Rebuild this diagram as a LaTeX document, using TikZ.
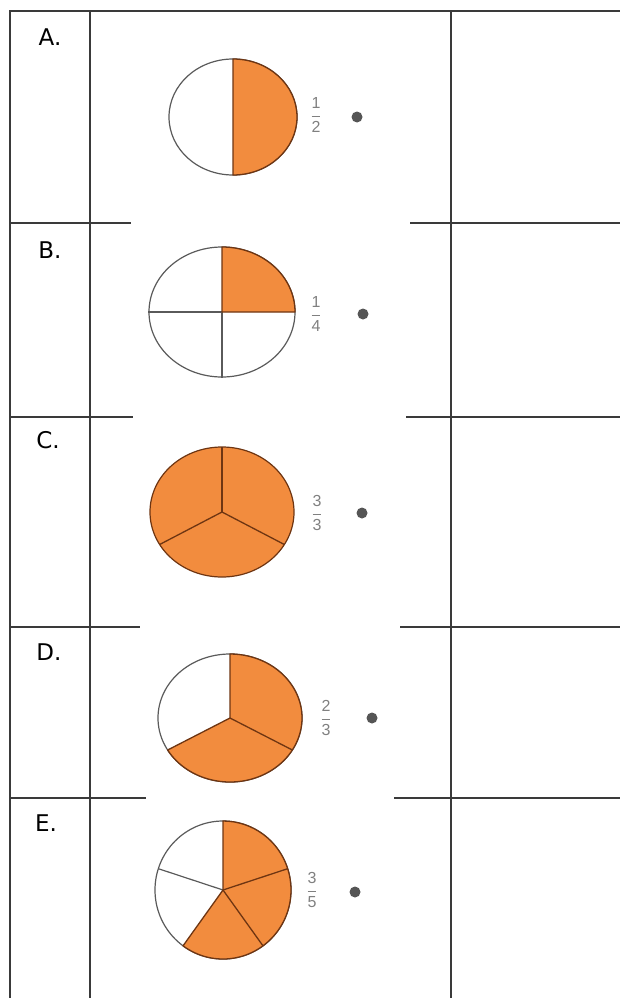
\documentclass[tikz,border=0pt]{standalone}
\usepackage{amsmath}
\usepackage{fontspec}
\usepackage{tikz}
\usetikzlibrary{positioning,shapes.geometric}
\newfontfamily\rowfont{DejaVu Sans}
\newfontfamily\fracfont{Liberation Sans}
\definecolor{PieOrange}{HTML}{F28C3E}
\definecolor{PieEdge}{HTML}{6E3512}
\definecolor{PieGrey}{HTML}{5A5A5A}
\definecolor{GridLine}{HTML}{3A3A3A}
\definecolor{FracGrey}{HTML}{808080}
\definecolor{DotGrey}{HTML}{555555}

\begin{document}
\begin{tikzpicture}[x=1pt,y=-1pt]
  \tikzstyle{rowlabel}=[inner sep=0pt,font=\rowfont\fontsize{23}{25}\selectfont]
  \tikzstyle{pie}=[ellipse,draw=PieGrey,line width=1.2pt,inner sep=0pt]
  \tikzstyle{slice}=[fill=PieOrange,draw=PieEdge,line width=1.3pt,line join=round]
  \tikzstyle{cut}=[draw=PieEdge,line width=1.3pt]
  \tikzstyle{thincut}=[draw=PieGrey,line width=1.2pt]
  \tikzstyle{fracnum}=[inner sep=0pt,text=FracGrey,font=\fracfont\fontsize{16}{18}\selectfont]
  \tikzstyle{answerdot}=[circle,fill=DotGrey,minimum size=11pt,inner sep=0pt]
  \tikzstyle{grid}=[draw=GridLine,line width=1.4pt]
  \useasboundingbox (0,0) rectangle (620,998);

  % table lines
  \draw[grid] (620,11) -- (10,11) -- (10,998);
  \draw[grid] (90,11) -- (90,998);
  \draw[grid] (451,11) -- (451,998);
  \draw[grid] (10,223) -- (131,223);  \draw[grid] (410,223) -- (620,223);
  \draw[grid] (10,417) -- (133,417);  \draw[grid] (406,417) -- (620,417);
  \draw[grid] (10,627) -- (140,627);  \draw[grid] (400,627) -- (620,627);
  \draw[grid] (10,798) -- (146,798);  \draw[grid] (394,798) -- (620,798);

  % row letters
  \node[rowlabel] (la) at (50,37) {A.};
  \node[rowlabel] (lb) at (50,250) {B.};
  \node[rowlabel] (lc) at (48,440) {C.};
  \node[rowlabel] (ld) at (49,652) {D.};
  \node[rowlabel] (le) at (46,823) {E.};

  % A: one half
  \node[pie,minimum width=128pt,minimum height=116pt] (pa) at (233,117) {};
  \path[slice] (pa.center) -- +(90:64pt and 58pt)
    arc[start angle=90,end angle=-90,x radius=64pt,y radius=58pt] -- cycle;
  \node[fracnum] (fa) at (316,115) {$\dfrac{\text{1}}{\text{2}}$};
  \node[answerdot] (da) at (357,117) {};

  % B: one quarter
  \node[pie,minimum width=146pt,minimum height=130pt] (pb) at (222,312) {};
  \draw[thincut] (pb.west) -- (pb.center) -- (pb.south);
  \path[slice] (pb.center) -- +(0:73pt and 65pt)
    arc[start angle=0,end angle=90,x radius=73pt,y radius=65pt] -- cycle;
  \node[fracnum] (fb) at (316,314) {$\dfrac{\text{1}}{\text{4}}$};
  \node[answerdot] (db) at (363,314) {};

  % C: three thirds
  \node[pie,minimum width=144pt,minimum height=130pt,fill=PieOrange,draw=PieEdge] (pc) at (222,512) {};
  \draw[cut] (pc.center) -- +(90:72pt and 65pt);
  \draw[cut] (pc.center) -- +(210:72pt and 65pt);
  \draw[cut] (pc.center) -- +(330:72pt and 65pt);
  \node[fracnum] (fc) at (317,513) {$\dfrac{\text{3}}{\text{3}}$};
  \node[answerdot] (dc) at (362,513) {};

  % D: two thirds
  \node[pie,minimum width=144pt,minimum height=128pt] (pd) at (230,718) {};
  \path[slice] (pd.center) -- +(210:72pt and 64pt)
    arc[start angle=210,end angle=450,x radius=72pt,y radius=64pt] -- cycle;
  \draw[cut] (pd.center) -- +(330:72pt and 64pt);
  \node[fracnum] (fd) at (326,718) {$\dfrac{\text{2}}{\text{3}}$};
  \node[answerdot] (dd) at (372,718) {};

  % E: three fifths
  \node[pie,minimum width=136pt,minimum height=138pt] (pe) at (223,890) {};
  \draw[thincut] (pe.center) -- +(162:68pt and 69pt);
  \path[slice] (pe.center) -- +(-126:68pt and 69pt)
    arc[start angle=-126,end angle=90,x radius=68pt,y radius=69pt] -- cycle;
  \draw[cut] (pe.center) -- +(18:68pt and 69pt);
  \draw[cut] (pe.center) -- +(-54:68pt and 69pt);
  \node[fracnum] (fe) at (312,890) {$\dfrac{\text{3}}{\text{5}}$};
  \node[answerdot] (de) at (355,892) {};
\end{tikzpicture}
\end{document}
